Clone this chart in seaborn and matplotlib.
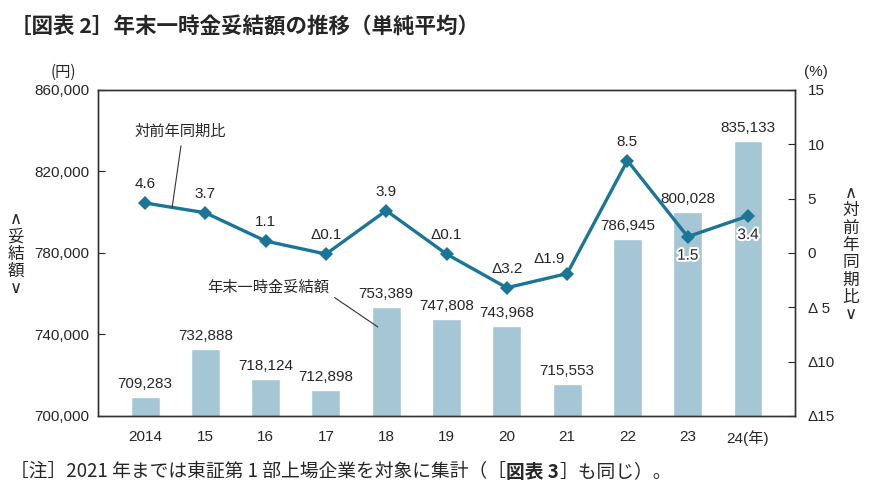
import numpy as np
import pandas as pd
import matplotlib
matplotlib.use("Agg")
import matplotlib.pyplot as plt
import matplotlib.patheffects as pe
import seaborn as sns

# データ
years = ["2014", "15", "16", "17", "18", "19", "20", "21", "22", "23", "24"]
amount = [709283, 732888, 718124, 712898, 753389, 747808, 743968, 715553, 786945, 800028, 835133]
yoy = [4.6, 3.7, 1.1, -0.1, 3.9, -0.1, -3.2, -1.9, 8.5, 1.5, 3.4]
left_ticks = [700000, 740000, 780000, 820000, 860000]
right_ticks = [-15, -10, -5, 0, 5, 10, 15]
right_ticklabels = ["Δ15", "Δ10", "Δ 5", "0", "5", "10", "15"]

sns.set_style("white")
JP = ["Noto Sans CJK JP", "DejaVu Sans"]
NUM = ["Liberation Sans", "DejaVu Sans"]
plt.rcParams["font.family"] = JP

bar_color = "#a5c6d5"
line_color = "#1b7596"

df = pd.DataFrame({"year": years, "amount": amount, "yoy": yoy, "pos": np.arange(len(years))})

fig = plt.figure(figsize=(8.75, 4.97), dpi=100)
ax = fig.add_axes([0.112, 0.163, 0.7966, 0.656])

sns.barplot(data=df, x="year", y="amount", color=bar_color, width=0.48, ax=ax,
            saturation=1, zorder=2)
ax.set_ylim(700000, 860000)
ax.set_xlim(-0.78, 10.78)
ax.set_yticks(left_ticks)
ax.set_yticklabels([f"{v:,}" for v in left_ticks], fontfamily=NUM, fontsize=11)
xl = years[:-1] + ["24(年)"]
ax.set_xticks(range(len(years)))
ax.set_xticklabels(xl, fontfamily=["Liberation Sans", "Noto Sans CJK JP"], fontsize=11)
ax.set_xlabel("")
ax.set_ylabel("")
ax.tick_params(axis="y", direction="in", length=5, width=0.8, pad=6)
ax.tick_params(axis="x", length=0, pad=10)
for s in ax.spines.values():
    s.set_color("#333333")
    s.set_linewidth(1.0)

for i, v in enumerate(amount):
    ax.annotate(f"{v:,}", (i, v), xytext=(0, 6), textcoords="offset pixels",
                ha="center", va="bottom", fontfamily=NUM, fontsize=11)

ax2 = ax.twinx()
sns.lineplot(data=df, x="pos", y="yoy", color=line_color, linewidth=2.4,
             marker="D", markersize=7, markeredgewidth=0, ax=ax2)
ax2.set_ylim(-15, 15)
ax2.set_yticks(right_ticks)
ax2.set_yticklabels(right_ticklabels, fontfamily=NUM, fontsize=11)
ax2.set_ylabel("")
ax2.set_xlabel("")
ax2.tick_params(axis="y", direction="in", length=5, width=0.8, pad=9)
for s in ax2.spines.values():
    s.set_color("#333333")
    s.set_linewidth(1.0)

# 対前年同期比ラベル
offsets = {0: (0, 12), 1: (0, 12), 2: (0, 12), 3: (0, 12), 4: (0, 12), 5: (0, 12),
           6: (0, 12), 7: (-18, 8), 8: (0, 12), 9: (0, -12), 10: (0, -12)}
for i, v in enumerate(yoy):
    txt = f"Δ{abs(v):.1f}" if v < 0 else f"{v:.1f}"
    dx, dy = offsets[i]
    va = "bottom" if dy > 0 else "top"
    t = ax2.annotate(txt, (i, v), xytext=(dx, dy), textcoords="offset pixels",
                     ha="center", va=va, fontfamily=NUM, fontsize=11)
    if i >= 9:
        t.set_path_effects([pe.withStroke(linewidth=3, foreground="white")])

# 引き出し線
ax2.annotate("対前年同期比", xy=(0.45, 4.2), xytext=(0.58, 11.2),
             ha="center", va="center", fontsize=11,
             arrowprops=dict(arrowstyle="-", color="#333333", lw=0.8,
                             relpos=(0.52, 0), shrinkA=2, shrinkB=0))
ax2.annotate("年末一時金妥結額", xy=(3.86, 743700), xycoords=ax.transData,
             xytext=(2.04, 763300), textcoords=ax.transData,
             ha="center", va="center", fontsize=11,
             arrowprops=dict(arrowstyle="-", color="#333333", lw=0.8,
                             relpos=(1, 0.1), shrinkA=2, shrinkB=0))

# 軸単位・軸ラベル
fig.text(0.072, 0.855, "(円)", ha="center", va="center", fontsize=11)
fig.text(0.933, 0.855, "(%)", ha="center", va="center", fontfamily=NUM, fontsize=11)
fig.text(0.018, 0.49, "∧\n妥\n結\n額\n∨", ha="center", va="center", fontsize=12,
         linespacing=0.95, family=["DejaVu Sans", "Noto Sans CJK JP"])
fig.text(0.972, 0.49, "∧\n対\n前\n年\n同\n期\n比\n∨", ha="center", va="center",
         fontsize=12, linespacing=0.95, family=["DejaVu Sans", "Noto Sans CJK JP"])

# タイトル
fig.text(0.012, 0.945, "［図表 2］年末一時金妥結額の推移（単純平均）", ha="left", va="center",
         fontsize=15.5, fontweight="bold")

# 注記
fig.canvas.draw()
r = fig.canvas.get_renderer()
x = 0.012
y = 0.05
for part, w in [("［注］2021 年までは東証第 1 部上場企業を対象に集計（［", "normal"),
                ("図表 3", "bold"), ("］も同じ）。", "normal")]:
    t = fig.text(x, y, part, ha="left", va="center", fontsize=13.5, fontweight=w)
    bb = t.get_window_extent(renderer=r)
    x += bb.width / fig.bbox.width

fig.savefig("out.png", dpi=100)
